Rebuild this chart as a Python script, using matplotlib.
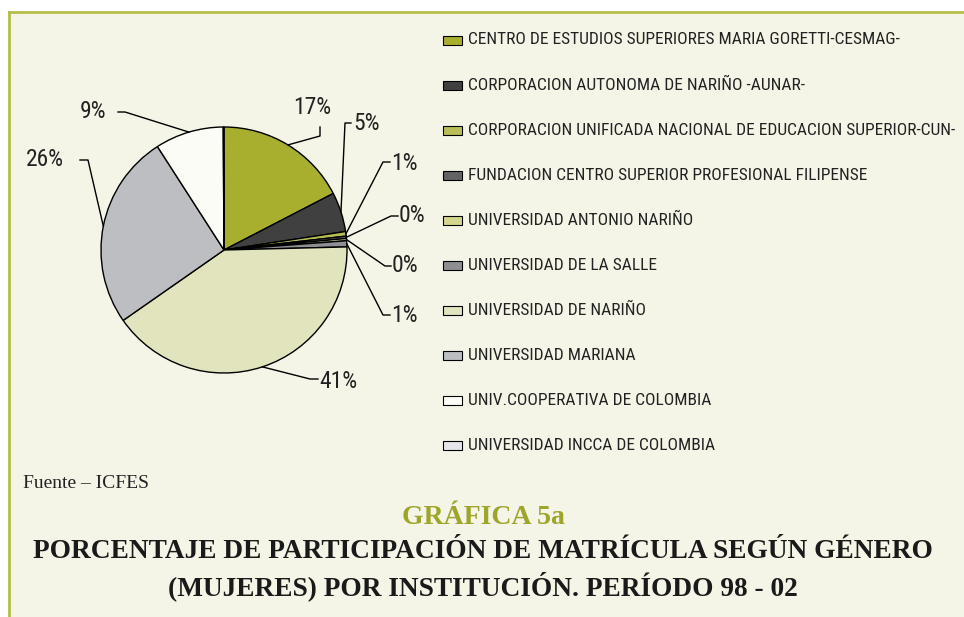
import matplotlib
matplotlib.use("Agg")
import matplotlib.pyplot as plt
from matplotlib import font_manager as fm
import numpy as np

# datos (porcentaje de matrícula, mujeres)
instituciones = [
    "CENTRO DE ESTUDIOS SUPERIORES MARIA GORETTI-CESMAG-",
    "CORPORACION AUTONOMA DE NARIÑO -AUNAR-",
    "CORPORACION UNIFICADA NACIONAL DE EDUCACION SUPERIOR-CUN-",
    "FUNDACION CENTRO SUPERIOR PROFESIONAL FILIPENSE",
    "UNIVERSIDAD ANTONIO NARIÑO",
    "UNIVERSIDAD DE LA SALLE",
    "UNIVERSIDAD DE NARIÑO",
    "UNIVERSIDAD MARIANA",
    "UNIV.COOPERATIVA DE COLOMBIA",
    "UNIVERSIDAD INCCA DE COLOMBIA",
]
porcentajes = [17.4, 5.2, 0.6, 0.3, 0.3, 0.8, 40.7, 25.6, 9.0, 0.1]
etiquetas = ["17%", "5%", "1%", "0%", "0%", "1%", "41%", "26%", "9%", None]
colores = ["#A8AE2E", "#404040", "#B8BE55", "#636363", "#D4D68E",
           "#8E8F93", "#E2E4BE", "#BDBEC2", "#FCFCF6", "#E4E6EC"]

# posiciones de etiquetas en pixeles: (codo, fin de la linea, texto, alineacion)
layout = [
    ((320, 136), (320, 127), (312, 107), "center"),
    ((345, 123), (351, 123), (353, 124), "left"),
    ((383, 162), (390, 162), (391, 163), "left"),
    ((391, 216), (398, 216), (399, 216), "left"),
    ((385, 266), (391, 266), (392, 266), "left"),
    ((383, 315), (390, 315), (391, 316), "left"),
    ((310, 379), (318, 379), (319, 381), "left"),
    ((88, 160), (80, 160), (64, 160), "right"),
    ((125, 112), (118, 112), (106, 111), "right"),
]

W, H = 964, 617


def buscar_condensada():
    # busca una fuente sans estrecha instalada; si no hay, Roboto
    pref = ["liberation sans narrow", "roboto condensed", "dejavu sans condensed",
            "noto sans condensed", "open sans condensed", "arial narrow"]
    fuentes = fm.fontManager.ttflist
    for p in pref:
        for f in fuentes:
            if f.name.lower() == p and f.style == "normal" and f.weight in (400, "normal", "regular"):
                return fm.FontProperties(fname=f.fname)
    for f in fuentes:
        n = f.name.lower()
        if ("sans" in n and f.style == "normal" and f.weight in (400, "normal", "regular")
                and (str(f.stretch) in ("condensed", "semi-condensed") or "condensed" in n or "narrow" in n)):
            return fm.FontProperties(fname=f.fname)
    return fm.FontProperties(family=["Roboto", "DejaVu Sans"])


narrow = buscar_condensada()
serif = ["Liberation Serif", "DejaVu Serif"]


def py(y):
    # pixel y (desde arriba) -> coordenada de datos
    return H - y


fig = plt.figure(figsize=(W / 100, H / 100), dpi=100, facecolor="white")
ax = fig.add_axes([0, 0, 1, 1])
renderer = fig.canvas.get_renderer()


def ajustar(t, ancho):
    # ajusta el tamaño de letra para que el texto ocupe "ancho" pixeles
    w = t.get_window_extent(renderer).width
    t.set_fontsize(t.get_fontsize() * ancho / w)
    return t.get_fontsize()


cx, cy, r = 224, py(250), 123
wedges, _ = ax.pie(porcentajes, colors=colores, startangle=90, counterclock=False,
                   center=(cx, cy), radius=r,
                   wedgeprops=dict(edgecolor="black", linewidth=1.0))
for w in wedges:
    w.set_zorder(3)

ax.set_xlim(0, W)
ax.set_ylim(0, H)
ax.set_aspect("equal")
ax.axis("off")

# fondo y borde
ax.add_patch(plt.Rectangle((9, 0), W - 9, py(12), facecolor="#F4F4E7",
                           edgecolor="none", zorder=0))
ax.plot([9, W], [py(12), py(12)], color="#B5BE4A", lw=2, zorder=1)
ax.plot([9, 9], [py(12), 0], color="#B5BE4A", lw=2, zorder=1)

# tamaño de las etiquetas de porcentaje: "17%" mide ~38 px
prueba = ax.text(0, 0, "17%", fontproperties=narrow, fontsize=16)
tam_pct = ajustar(prueba, 38)
prueba.remove()

# etiquetas con lineas guia
for w, lab, (codo, fin, txt, ha) in zip(wedges, etiquetas, layout):
    if lab is None:
        continue
    ang = np.deg2rad((w.theta1 + w.theta2) / 2)
    ax_, ay_ = cx + r * np.cos(ang), cy + r * np.sin(ang)
    ax.plot([ax_, codo[0], fin[0]], [ay_, py(codo[1]), py(fin[1])],
            color="black", lw=1.0, zorder=4)
    ax.text(txt[0], py(txt[1]), lab, ha=ha, va="center", fontproperties=narrow,
            fontsize=tam_pct, color="#222222")

# leyenda: la linea mas larga va de x=468 a x=957
prueba = ax.text(0, 0, instituciones[2], fontproperties=narrow, fontsize=12.5)
tam_ley = ajustar(prueba, 489)
prueba.remove()
for i, (nombre, c) in enumerate(zip(instituciones, colores)):
    y = 40 + i * 45.1
    ax.add_patch(plt.Rectangle((443, py(y) - 4.5), 19, 9, facecolor=c,
                               edgecolor="black", lw=0.8, zorder=3))
    ax.text(468, py(y), nombre, ha="left", va="center", fontproperties=narrow,
            fontsize=tam_ley, color="#222222")

ax.text(23, py(483), "Fuente – ICFES", ha="left", va="center", fontsize=14,
        family=serif, color="#222222")
ax.text(483, py(517), "GRÁFICA 5a", ha="center", va="center", fontsize=20,
        family=serif, weight="bold", color="#9DA52B")
ax.text(483, py(552), "PORCENTAJE DE PARTICIPACIÓN DE MATRÍCULA SEGÚN GÉNERO",
        ha="center", va="center", fontsize=19.7, family=serif, weight="bold",
        color="#1a1a1a")
ax.text(483, py(586), "(MUJERES) POR INSTITUCIÓN. PERÍODO 98 - 02",
        ha="center", va="center", fontsize=19.7, family=serif, weight="bold",
        color="#1a1a1a")

fig.savefig("out.png", dpi=100, facecolor="white")
